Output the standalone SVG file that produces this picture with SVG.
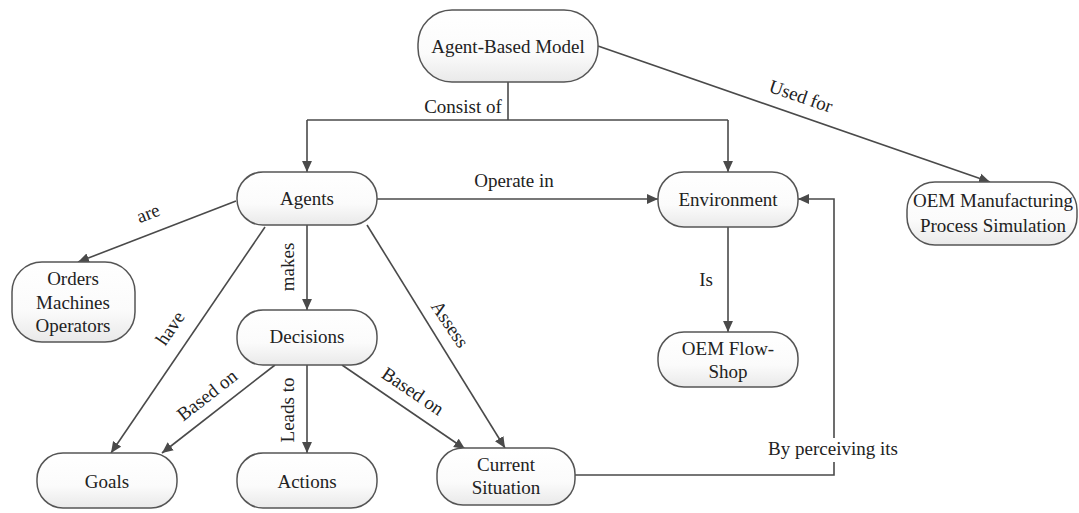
<svg xmlns="http://www.w3.org/2000/svg" width="1079" height="513" viewBox="0 0 1079 513" font-family="Liberation Serif, Times New Roman, serif" font-size="19">
  <defs>
    <linearGradient id="nodeFill" x1="0" y1="0" x2="0" y2="1">
      <stop offset="0" stop-color="#ffffff"/>
      <stop offset="0.6" stop-color="#fbfbfb"/>
      <stop offset="1" stop-color="#e9e9e9"/>
    </linearGradient>
    <marker id="arrow" viewBox="0 0 10 10" refX="10" refY="5" markerWidth="11" markerHeight="11" markerUnits="userSpaceOnUse" orient="auto">
      <path d="M0,0.5 L10,5 L0,9.5 Z" fill="#4a4a4a"/>
    </marker>
  </defs>
  <style>
    .node rect { fill: url(#nodeFill); stroke: #555; stroke-width: 1.5; }
    text { fill: #222; text-anchor: middle; dominant-baseline: central; }
    .edge { fill: none; stroke: #4a4a4a; stroke-width: 1.6; }
    .arr { marker-end: url(#arrow); }
  </style>
  <rect width="1079" height="513" fill="#ffffff"/>

  <!-- connectors -->
  <g id="connectors">
    <polyline class="edge" points="508,82 508,120"/>
    <polyline class="edge" points="307,120 728,120"/>
    <line class="edge arr" x1="307" y1="120" x2="307" y2="172"/>
    <line class="edge arr" x1="728" y1="120" x2="728" y2="172"/>
    <line class="edge arr" x1="598" y1="46" x2="990" y2="182"/>
    <line class="edge arr" x1="377" y1="199" x2="658" y2="199"/>
    <line class="edge arr" x1="236" y1="201" x2="78" y2="262"/>
    <line class="edge arr" x1="307" y1="225" x2="307" y2="310"/>
    <line class="edge arr" x1="265" y1="227" x2="111" y2="453"/>
    <line class="edge arr" x1="367" y1="225" x2="505" y2="448"/>
    <line class="edge arr" x1="275" y1="365" x2="162" y2="453"/>
    <line class="edge arr" x1="307" y1="365" x2="307" y2="453"/>
    <line class="edge arr" x1="342" y1="365" x2="465" y2="449"/>
    <line class="edge arr" x1="728" y1="227" x2="728" y2="332"/>
    <polyline class="edge arr" points="575,475 834,475 834,199 798,199"/>

    <text x="463" y="106">Consist of</text>
    <text x="514" y="180">Operate in</text>
    <text transform="translate(801,96) rotate(19)">Used for</text>
    <text transform="translate(148,213) rotate(-21)">are</text>
    <text transform="translate(287,267) rotate(-90)">makes</text>
    <text transform="translate(170,328) rotate(-56)">have</text>
    <text transform="translate(450,324) rotate(56)">Assess</text>
    <text transform="translate(207,395) rotate(-38)">Based on</text>
    <text transform="translate(287,410) rotate(-90)">Leads to</text>
    <text transform="translate(413,391) rotate(34)">Based on</text>
    <text x="706" y="279">Is</text>
    <rect x="766" y="438" width="134" height="24" fill="#ffffff"/>
    <text x="833" y="448">By perceiving its</text>
  </g>

  <!-- nodes -->
  <g id="abm" class="node">
    <rect x="418" y="10" width="180" height="72" rx="34"/>
    <text x="508" y="46">Agent-Based Model</text>
  </g>
  <g id="agents" class="node">
    <rect x="237" y="172" width="140" height="53" rx="26"/>
    <text x="307" y="198">Agents</text>
  </g>
  <g id="environment" class="node">
    <rect x="658" y="172" width="140" height="55" rx="26"/>
    <text x="728" y="199">Environment</text>
  </g>
  <g id="oem-sim" class="node">
    <rect x="907" y="182" width="170" height="63" rx="28"/>
    <text x="993" y="200">OEM Manufacturing</text>
    <text x="993" y="225">Process Simulation</text>
  </g>
  <g id="types" class="node">
    <rect x="12" y="262" width="123" height="80" rx="30"/>
    <text x="73" y="278">Orders</text>
    <text x="73" y="302">Machines</text>
    <text x="73" y="325">Operators</text>
  </g>
  <g id="decisions" class="node">
    <rect x="237" y="310" width="140" height="55" rx="26"/>
    <text x="307" y="336">Decisions</text>
  </g>
  <g id="flowshop" class="node">
    <rect x="658" y="332" width="140" height="55" rx="26"/>
    <text x="728" y="348">OEM Flow-</text>
    <text x="728" y="371">Shop</text>
  </g>
  <g id="goals" class="node">
    <rect x="37" y="453" width="140" height="55" rx="26"/>
    <text x="107" y="481">Goals</text>
  </g>
  <g id="actions" class="node">
    <rect x="237" y="453" width="140" height="55" rx="26"/>
    <text x="307" y="481">Actions</text>
  </g>
  <g id="situation" class="node">
    <rect x="437" y="448" width="138" height="57" rx="26"/>
    <text x="506" y="464">Current</text>
    <text x="506" y="487">Situation</text>
  </g>
</svg>
